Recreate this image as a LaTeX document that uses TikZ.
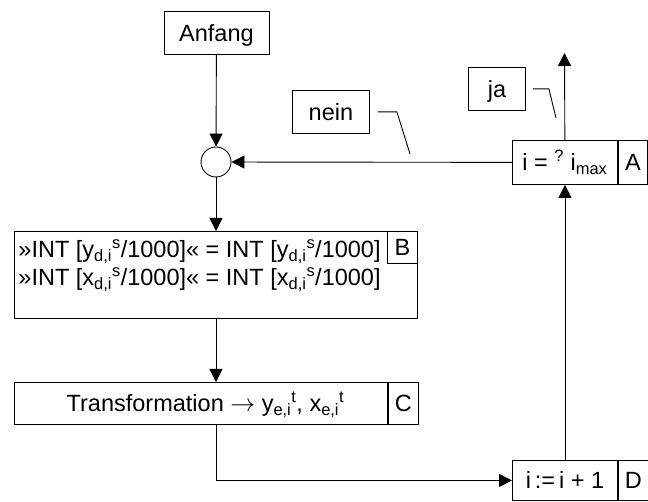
\documentclass[tikz,border=0pt]{standalone}
\usepackage{fontspec}
\setmainfont{Liberation Sans}
\usetikzlibrary{arrows.meta,calc}
\begin{document}
\begin{tikzpicture}[x=1pt,y=-1pt,line width=0.9pt,
  font=\fontsize{23.5}{27}\selectfont,
  box/.style={draw,inner sep=0pt,text height=16.5pt,text depth=0pt,anchor=north west},
  txt/.style={inner sep=0pt,text height=17pt,text depth=0pt},
  arr/.style={-{Triangle[length=13pt,width=13pt]}}]
\useasboundingbox (0,0) rectangle (648,502);
% nodes
\node[box,minimum width=105pt,minimum height=43pt] (anfang) at (163.5,11) {Anfang};
\node[draw,circle,minimum size=30pt,inner sep=0pt] (circ) at (216,162) {};
\node[box,minimum width=403pt,minimum height=87pt] (Bmain) at (14,231) {};
\node[box,minimum width=30pt,minimum height=32pt,anchor=north east] (Blab) at (Bmain.north east) {B};
\node[txt,anchor=west] (B1) at (18,249) {»INT [y\textsubscript{d,i}\textsuperscript{s}/1000]« = INT [y\textsubscript{d,i}\textsuperscript{s}/1000]};
\node[txt,anchor=west] (B2) at (18,277) {»INT [x\textsubscript{d,i}\textsuperscript{s}/1000]« = INT [x\textsubscript{d,i}\textsuperscript{s}/1000]};
\node[box,minimum width=373pt,minimum height=42pt] (Cmain) at (14,382) {\hspace*{9pt}Transformation $\rightarrow$ y\textsubscript{e,i}\textsuperscript{t}, x\textsubscript{e,i}\textsuperscript{t}};
\node[box,minimum width=30pt,minimum height=42pt] (Clab) at (Cmain.north east) {C};
\node[box,minimum width=105pt,minimum height=44pt] (Amain) at (512,140) {i = \textsuperscript{?} i\textsubscript{max}};
\node[box,minimum width=29pt,minimum height=44pt] (Alab) at (Amain.north east) {A};
\node[box,minimum width=105pt,minimum height=40pt] (Dmain) at (512,460) {i\,:=\,i + 1};
\node[box,minimum width=30pt,minimum height=40pt] (Dlab) at (Dmain.north east) {D};
\node[box,minimum width=77pt,minimum height=43pt] (nein) at (292,90) {nein};
\node[box,minimum width=57pt,minimum height=43pt] (ja) at (468,67) {ja};
\coordinate (top) at (564.5,53);
\coordinate (neinTip) at (410,154);
\coordinate (jaTip) at (556,118);
% connectors
\draw[arr] (anfang) -- (circ);
\draw[arr] (circ) -- (circ |- Bmain.north);
\draw[arr] (Bmain.south -| circ) -- (Cmain.north -| circ);
\draw[arr] (Cmain.south -| circ) |- (Dmain.west);
\draw[arr] (Dmain) -- (Amain);
\draw[arr] (Amain) -- (top);
\draw[arr] (Amain) -- (circ);
\draw ($(nein.east)+(8,0)$) -- ++(19,0) -- (neinTip);
\draw ($(ja.east)+(7,0)$) -- ++(16,0) -- (jaTip);
\end{tikzpicture}
\end{document}
